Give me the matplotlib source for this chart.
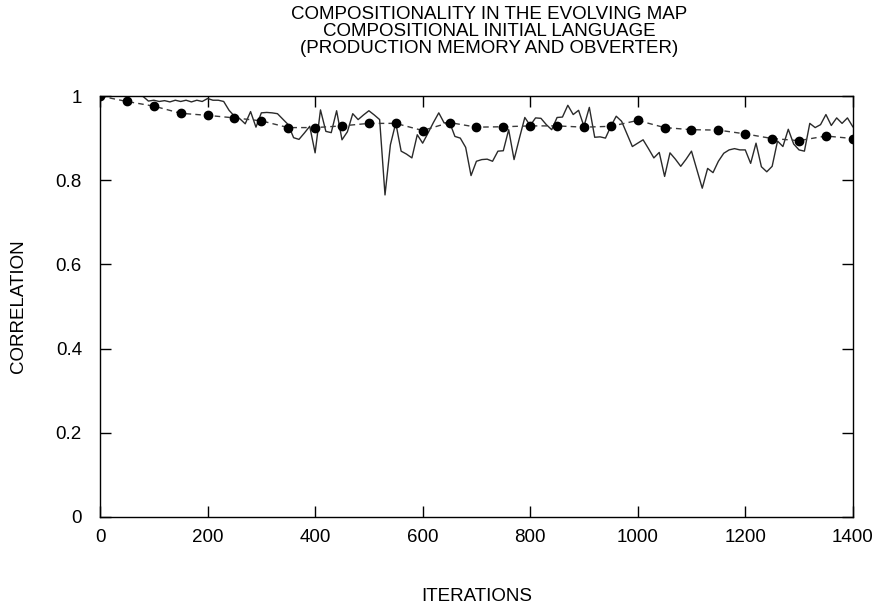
import numpy as np
import matplotlib
matplotlib.use("Agg")
import matplotlib.pyplot as plt

plt.rcParams['font.family'] = ['Liberation Sans', 'DejaVu Sans']

# noisy run, sampled every 10 iterations
iters_fine = list(range(0, 1401, 10))
corr_fine = [
    1.000, 1.000, 1.000, 1.000, 1.000, 1.000, 1.000, 1.000, 0.999, 0.988,
    0.990, 0.987, 0.989, 0.986, 0.990, 0.987, 0.990, 0.986, 0.990, 0.987,
    0.994, 0.990, 0.990, 0.987, 0.966, 0.952, 0.946, 0.934, 0.963, 0.926,
    0.960, 0.961, 0.960, 0.958, 0.945, 0.932, 0.901, 0.897, 0.912, 0.928,
    0.865, 0.967, 0.916, 0.913, 0.965, 0.896, 0.915, 0.958, 0.944, 0.955,
    0.965, 0.955, 0.944, 0.765, 0.884, 0.936, 0.869, 0.862, 0.853, 0.908,
    0.888, 0.912, 0.937, 0.960, 0.936, 0.938, 0.904, 0.900, 0.878, 0.811,
    0.845, 0.849, 0.850, 0.845, 0.869, 0.870, 0.920, 0.849, 0.900, 0.949,
    0.930, 0.948, 0.947, 0.932, 0.920, 0.949, 0.950, 0.978, 0.956, 0.966,
    0.928, 0.973, 0.902, 0.903, 0.900, 0.928, 0.952, 0.940, 0.910, 0.880,
    0.888, 0.896, 0.875, 0.853, 0.866, 0.809, 0.865, 0.850, 0.833, 0.850,
    0.869, 0.825, 0.781, 0.828, 0.818, 0.845, 0.864, 0.872, 0.875, 0.872,
    0.872, 0.840, 0.888, 0.832, 0.820, 0.833, 0.893, 0.880, 0.921, 0.886,
    0.872, 0.869, 0.935, 0.925, 0.932, 0.956, 0.930, 0.948, 0.935, 0.948,
    0.927,
]

# averaged run, every 50 iterations
iters_avg = list(range(0, 1401, 50))
corr_avg = [
    1.000, 0.987, 0.976, 0.959, 0.954, 0.948, 0.941, 0.925, 0.925, 0.929,
    0.935, 0.935, 0.918, 0.937, 0.926, 0.927, 0.929, 0.929, 0.926, 0.928,
    0.942, 0.925, 0.920, 0.919, 0.910, 0.899, 0.894, 0.905, 0.899,
]

xticks = [0, 200, 400, 600, 800, 1000, 1200, 1400]
yticks = [0, 0.2, 0.4, 0.6, 0.8, 1.0]
ytick_labels = ['0', '0.2', '0.4', '0.6', '0.8', '1']

fs = 13.5

fig = plt.figure(figsize=(8.79, 6.10), dpi=100)
ax = fig.add_axes([0.1138, 0.1525, 0.8564, 0.6901])

ax.plot(iters_fine, corr_fine, color='#2a2a2a', lw=1.0)
ax.plot(iters_avg, corr_avg, color='#3a3a3a', lw=1.0, ls=(0, (4, 3)),
        marker='o', ms=6, mfc='black', mec='black')

ax.set_xlim(0, 1400)
ax.set_ylim(0, 1)
ax.set_xticks(xticks)
ax.set_yticks(yticks)
ax.set_yticklabels(ytick_labels)
ax.tick_params(direction='in', length=8, width=1, top=True, right=True,
               labelsize=fs)
ax.tick_params(axis='x', pad=9)
ax.tick_params(axis='y', pad=13)
for s in ax.spines.values():
    s.set_linewidth(1.0)

ax.set_xlabel('ITERATIONS', fontsize=fs)
ax.set_ylabel('CORRELATION', fontsize=fs)
ax.xaxis.set_label_coords(0.5, -0.168)
ax.yaxis.set_label_coords(-0.097, 0.5)
fig.text(0.557, 0.99,
         'COMPOSITIONALITY IN THE EVOLVING MAP\nCOMPOSITIONAL INITIAL LANGUAGE\n(PRODUCTION MEMORY AND OBVERTER)',
         ha='center', va='top', fontsize=fs, linespacing=0.98)

fig.savefig('out.png', dpi=100)
